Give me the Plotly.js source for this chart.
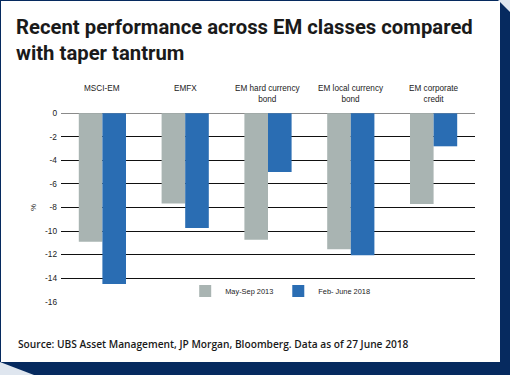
<!DOCTYPE html>
<html>
<head>
<meta charset="utf-8">
<script src="https://cdn.plot.ly/plotly-3.0.1.min.js"></script>
<style>
  html, body { margin: 0; padding: 0; background: #ffffff; }
  #frame { position: absolute; left: 0; top: 0; width: 510px; height: 375px; background: #062a5f; overflow: hidden; }
  #cornerTR { position: absolute; left: 498px; top: 0; width: 12px; height: 12px; background: #dfe6ef; clip-path: polygon(0 0, 100% 0, 100% 100%); }
  #cornerBL { position: absolute; left: 0; top: 362px; width: 34px; height: 13px; background: #dfe6ef; clip-path: polygon(0 0, 100% 100%, 0 100%); }
  #chart { position: absolute; left: 1px; top: 1px; width: 499px; height: 361px; background: #ffffff; }
</style>
</head>
<body>
<div id="frame"><div id="cornerTR"></div><div id="cornerBL"></div></div>
<div id="chart"></div>
<script>
// ---- data ----
const categories = ["MSCI-EM", "EMFX", "EM hard currency bond", "EM local currency bond", "EM corporate credit"];
const categoryLabels = ["MSCI-EM", "EMFX", "EM hard currency<br>bond", "EM local currency<br>bond", "EM corporate<br>credit"];
const seriesNames = ["May-Sep 2013", "Feb- June 2018"];
const maySep2013 = [-10.9, -7.65, -10.75, -11.55, -7.7];
const febJune2018 = [-14.5, -9.75, -4.98, -12.05, -2.8];
const yTickValues = [0, -2, -4, -6, -8, -10, -12, -14, -16];

const titleText = "Recent performance across EM classes compared<br>with taper tantrum";
const sourceText = "Source: UBS Asset Management, JP Morgan, Bloomberg. Data as of 27 June 2018";

const narrow = "'Liberation Sans Narrow', 'Liberation Sans', Arial, sans-serif";
const narrowFont = (size) => ({ family: narrow, size: size, color: "#222222", stretch: "condensed" });

const traces = [
  { type: "bar", name: seriesNames[0], x: categories, y: maySep2013,
    marker: { color: "#a9b4b2" }, hoverinfo: "skip" },
  { type: "bar", name: seriesNames[1], x: categories, y: febJune2018,
    marker: { color: "#2a6db3" }, hoverinfo: "skip" }
];

const annotations = categories.map((c, i) => ({
  x: c, xref: "x", y: 1.165, yref: "paper", yanchor: "top", xanchor: "center",
  text: categoryLabels[i], showarrow: false, align: "center",
  font: narrowFont(8.2)
}));
annotations.push({
  x: 0, xref: "paper", y: -0.22, yref: "paper", xanchor: "left", yanchor: "middle",
  text: sourceText, showarrow: false,
  font: { family: "'Open Sans', sans-serif", size: 10.2, color: "#1a1a1a", weight: 600 }
});

const layout = {
  width: 499, height: 361,
  margin: { l: 60, r: 25, t: 112, b: 60 },
  paper_bgcolor: "#ffffff", plot_bgcolor: "#ffffff",
  title: {
    text: titleText, xref: "container", x: 15 / 499, xanchor: "left",
    yref: "container", y: 1 - 33 / 361, yanchor: "top",
    font: { family: "Roboto, 'Liberation Sans', sans-serif", size: 20.3, color: "#1a1a1a", weight: 700 }
  },
  barmode: "group", bargap: 0.43, bargroupgap: 0,
  xaxis: {
    type: "category", side: "top", showticklabels: false, ticks: "",
    showgrid: false, showline: false, zeroline: false, fixedrange: true
  },
  yaxis: {
    range: [-16.03, 0.03], tickvals: yTickValues, ticktext: yTickValues.map(String),
    ticks: "", showgrid: true, gridcolor: "#111111", gridwidth: 1,
    zeroline: true, zerolinecolor: "#8a8a8a", zerolinewidth: 1.2,
    showline: false, ticklabelstandoff: 3,
    tickfont: narrowFont(8.3),
    title: { text: "%", standoff: 7, font: narrowFont(8) },
    fixedrange: true
  },
  showlegend: true,
  legend: {
    orientation: "h", x: 0.3, xanchor: "left", y: 0.058, yanchor: "middle",
    bgcolor: "rgba(255,255,255,0)", borderwidth: 0,
    font: narrowFont(7.4),
    traceorder: "normal", itemclick: false, itemdoubleclick: false
  },
  annotations: annotations
};

// source annotation x: 15px from the chart's left edge, expressed as a paper fraction
const plotW = layout.width - layout.margin.l - layout.margin.r;
layout.annotations[layout.annotations.length - 1].x = (15 - layout.margin.l) / plotW;

Plotly.newPlot("chart", traces, layout, { displayModeBar: false, staticPlot: true });
</script>
</body>
</html>
